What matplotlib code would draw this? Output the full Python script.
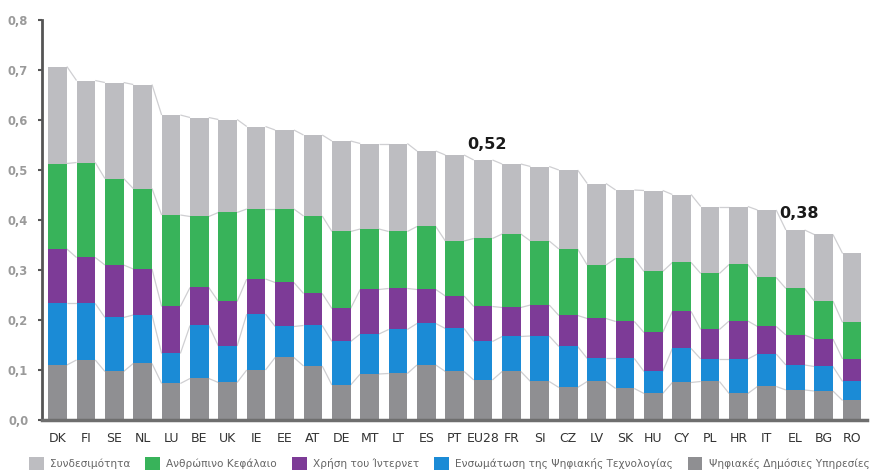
import matplotlib
matplotlib.use("Agg")
import matplotlib.pyplot as plt
import numpy as np

countries = ["DK", "FI", "SE", "NL", "LU", "BE", "UK", "IE", "EE", "AT", "DE", "MT",
             "LT", "ES", "PT", "EU28", "FR", "SI", "CZ", "LV", "SK", "HU", "CY", "PL",
             "HR", "IT", "EL", "BG", "RO"]

# DESI dimensions, stacked from the bottom up
public_services = [0.110, 0.120, 0.097, 0.113, 0.073, 0.083, 0.075, 0.100, 0.125, 0.108,
                   0.070, 0.092, 0.093, 0.110, 0.097, 0.080, 0.097, 0.077, 0.065, 0.077,
                   0.063, 0.053, 0.075, 0.077, 0.053, 0.067, 0.060, 0.058, 0.039]
integration = [0.123, 0.113, 0.108, 0.097, 0.060, 0.106, 0.073, 0.112, 0.062, 0.081,
               0.087, 0.080, 0.088, 0.083, 0.086, 0.077, 0.070, 0.091, 0.082, 0.046,
               0.060, 0.044, 0.068, 0.045, 0.069, 0.065, 0.050, 0.049, 0.038]
internet_use = [0.109, 0.092, 0.105, 0.092, 0.094, 0.076, 0.089, 0.070, 0.088, 0.064,
                0.066, 0.089, 0.082, 0.068, 0.065, 0.070, 0.058, 0.062, 0.062, 0.080,
                0.074, 0.078, 0.074, 0.059, 0.076, 0.055, 0.060, 0.055, 0.045]
human_capital = [0.171, 0.190, 0.173, 0.161, 0.183, 0.142, 0.178, 0.140, 0.147, 0.155,
                 0.154, 0.121, 0.114, 0.126, 0.110, 0.136, 0.147, 0.128, 0.133, 0.107,
                 0.126, 0.122, 0.098, 0.112, 0.113, 0.098, 0.093, 0.076, 0.073]
connectivity = [0.194, 0.164, 0.192, 0.208, 0.200, 0.198, 0.186, 0.165, 0.158, 0.162,
                0.181, 0.171, 0.176, 0.151, 0.172, 0.157, 0.140, 0.149, 0.158, 0.163,
                0.137, 0.162, 0.136, 0.134, 0.116, 0.135, 0.117, 0.133, 0.138]

series_labels = ["Συνδεσιμότητα", "Ανθρώπινο Κεφάλαιο", "Χρήση του Ίντερνετ",
                 "Ενσωμάτωση της Ψηφιακής Τεχνολογίας", "Ψηφιακές Δημόσιες Υπηρεσίες"]
highlighted = ["EU28", "EL"]
y_ticks = [0.0, 0.1, 0.2, 0.3, 0.4, 0.5, 0.6, 0.7, 0.8]

colors = {
    "conn": "#bdbdc1",
    "human": "#38b35a",
    "use": "#7d3b97",
    "integ": "#1b8bd6",
    "public": "#8f8f92",
}

layers = [
    (public_services, colors["public"], series_labels[4]),
    (integration, colors["integ"], series_labels[3]),
    (internet_use, colors["use"], series_labels[2]),
    (human_capital, colors["human"], series_labels[1]),
    (connectivity, colors["conn"], series_labels[0]),
]

fig = plt.figure(figsize=(8.81, 4.72), dpi=100)
ax = fig.add_axes([0.0477, 0.1102, 0.9364, 0.8474])

x = np.arange(len(countries))
width = 0.66
bottom = np.zeros(len(countries))
handles = {}
for values, color, label in layers:
    v = np.array(values)
    bars = ax.bar(x, v, width, bottom=bottom, color=color, label=label,
                  linewidth=0, zorder=2)
    handles[label] = bars
    bottom = bottom + v
    # thin guide lines joining the top of each segment to the next bar
    for i in range(len(countries) - 1):
        ax.plot([x[i] + width / 2, x[i + 1] - width / 2], [bottom[i], bottom[i + 1]],
                color="#cfcfd2", lw=0.9, zorder=1, solid_capstyle="butt")

totals = bottom
for name in highlighted:
    i = countries.index(name)
    ax.text(x[i] + 0.12, totals[i] + 0.017, f"{totals[i]:.2f}".replace(".", ","),
            ha="center", va="bottom", fontsize=11.5, fontweight="bold", color="#1a1a1a")

ax.set_xlim(-0.546, 28.53)
ax.set_ylim(0, 0.8)
ax.set_yticks(y_ticks)
ax.set_yticklabels([f"{t:.1f}".replace(".", ",") for t in y_ticks])
ax.set_xticks(x)
ax.set_xticklabels(countries)

for side in ["top", "right"]:
    ax.spines[side].set_visible(False)
ax.spines["left"].set_color("#555555")
ax.spines["left"].set_linewidth(2.0)
ax.spines["bottom"].set_color("#6e6e6e")
ax.spines["bottom"].set_linewidth(2.5)

ax.tick_params(axis="y", length=3, width=1.5, color="#555555", pad=7,
               labelsize=8.3, labelcolor="#9a9a9a")
for lbl in ax.get_yticklabels():
    lbl.set_fontweight("bold")
ax.tick_params(axis="x", length=0, pad=9, labelsize=9, labelcolor="#333333")

legend_order = series_labels
fig.legend([handles[l] for l in legend_order], legend_order,
           loc="center", bbox_to_anchor=(0.51, 0.018), ncol=5, frameon=False,
           fontsize=7.6, handlelength=1.4, handleheight=1.4, handletextpad=0.6,
           columnspacing=1.4, labelcolor="#666666", borderaxespad=0)

fig.savefig("out.png", dpi=100)
